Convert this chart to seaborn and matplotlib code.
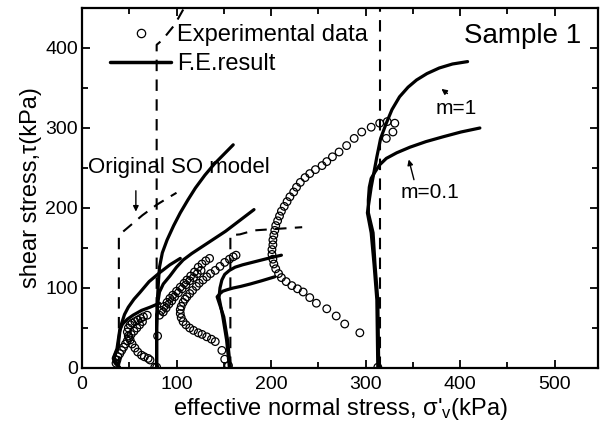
import numpy as np
import pandas as pd
import matplotlib
matplotlib.use("Agg")
import matplotlib.pyplot as plt
from matplotlib.lines import Line2D
from matplotlib.ticker import MultipleLocator
import seaborn as sns

# experimental stress paths (open circles)
exp1_x = [77, 72, 70, 66, 63, 59, 56, 53, 51, 49, 48, 49, 51, 53, 56, 59, 62, 65, 69,
          36, 37, 38, 40, 42, 44, 46, 48, 50, 52, 55, 58, 61, 64]
exp1_y = [1, 10, 12, 14, 16, 20, 25, 30, 35, 40, 45, 50, 54, 56, 58, 60, 62, 64, 66,
          6, 10, 14, 18, 22, 26, 30, 34, 38, 42, 46, 50, 54, 58]
exp2_x = [79, 80, 82, 84, 87, 90, 93, 96, 100, 104, 108, 111, 115, 119, 123, 127, 131, 135,
          86, 89, 92, 95, 98, 102, 106, 110, 114, 118, 122, 126]
exp2_y = [1, 40, 66, 72, 77, 82, 87, 91, 96, 101, 106, 110, 115, 120, 126, 130, 134, 137,
          70, 75, 80, 84, 89, 94, 99, 104, 109, 113, 118, 122]
exp3_x = [155, 151, 148, 141, 137, 132, 127, 123, 118, 114, 110, 107, 105, 104, 104, 105,
          107, 109, 111, 114, 117, 121, 124, 128, 132, 136, 141, 146, 151, 156, 160, 163]
exp3_y = [3, 11, 22, 33, 36, 39, 42, 44, 47, 50, 54, 58, 63, 68, 73, 77,
          82, 86, 89, 93, 97, 102, 106, 110, 114, 118, 122, 127, 132, 136, 139, 141]
exp4_x = [313, 294, 278, 269, 259, 248, 241, 234, 228, 222, 216, 211, 208, 205, 203, 202,
          201, 201, 202, 202, 203, 204, 205, 207, 209, 211, 214, 217, 220, 224, 227, 231,
          236, 241, 247, 254, 259, 265, 272, 280, 288, 296, 306, 315, 323, 331, 329, 322]
exp4_y = [1, 44, 55, 65, 74, 81, 88, 95, 99, 103, 108, 113, 118, 124, 130, 136,
          142, 148, 154, 160, 166, 172, 178, 184, 190, 196, 202, 208, 214, 220, 226, 232,
          238, 243, 248, 253, 258, 264, 270, 278, 287, 295, 301, 306, 308, 306, 295, 287]

# F.E. results (solid lines)
fe1a_x = [40, 36, 34, 38, 40, 42, 45, 49, 55, 61, 71, 82, 93, 104]
fe1a_y = [0, 8, 14, 25, 45, 56, 67, 76, 86, 94, 108, 119, 129, 137]
fe1b_x = [40, 35, 33, 37, 40, 43, 48, 54, 63, 72, 82]
fe1b_y = [0, 6, 12, 24, 48, 55, 61, 66, 72, 76, 81]
fe2a_x = [79, 79, 80, 81, 82, 85, 90, 97, 104, 112, 120, 130, 140, 150, 160]
fe2a_y = [0, 60, 90, 110, 126, 144, 160, 178, 194, 210, 225, 241, 255, 267, 279]
fe2b_x = [79, 79, 80, 82, 86, 93, 100, 107, 116, 125, 134, 143, 152, 162, 172, 182]
fe2b_y = [0, 50, 80, 95, 105, 115, 126, 135, 143, 150, 157, 164, 171, 180, 189, 198]
fe3a_x = [156, 153, 149, 145, 146, 148, 151, 156, 162, 170, 180, 190, 200, 211]
fe3a_y = [0, 35, 64, 88, 100, 110, 117, 122, 126, 129, 132, 135, 138, 141]
fe3b_x = [157, 154, 150, 143, 146, 149, 154, 160, 168, 178, 190, 204]
fe3b_y = [0, 35, 64, 89, 93, 96, 98, 100, 102, 105, 109, 114]
fe4a_x = [313, 312, 309, 306, 302, 304, 306, 309, 312, 316, 322, 328, 336, 345, 354, 365,
          378, 392, 408]
fe4a_y = [0, 85, 130, 169, 194, 210, 226, 245, 264, 287, 306, 323, 339, 351, 360, 368,
          375, 380, 383]
fe4b_x = [314, 313, 310, 308, 303, 303, 304, 306, 310, 315, 322, 333, 347, 364, 382, 401,
          421]
fe4b_y = [0, 85, 130, 169, 194, 210, 226, 237, 245, 254, 262, 269, 276, 283, 289, 295,
          300]

# original SO model (dashed)
so1_x = [39, 39, 49, 64, 79, 90, 100]
so1_y = [0, 166, 176, 191, 204, 212, 219]
so2_x = [79, 79, 85, 98, 108]
so2_y = [0, 404, 410, 429, 450]
so3_x = [157, 157, 167, 182, 233]
so3_y = [0, 166, 167, 172, 176]
so4_x = [315, 315]
so4_y = [0, 450]

sns.set_style("ticks")
plt.rcParams['font.family'] = ['Liberation Sans', 'DejaVu Sans']
plt.rcParams['mathtext.fontset'] = 'custom'
plt.rcParams['mathtext.rm'] = 'Liberation Sans'
plt.rcParams['mathtext.it'] = 'Liberation Sans'
for key in ['text.color', 'axes.labelcolor', 'axes.edgecolor', 'xtick.color', 'ytick.color']:
    plt.rcParams[key] = 'black'

fig = plt.figure(figsize=(6.01, 4.32), dpi=100)
ax = fig.add_axes([82 / 601, 64 / 432, 516 / 601, 360 / 432])

for xs, ys in [(so1_x, so1_y), (so2_x, so2_y), (so3_x, so3_y), (so4_x, so4_y)]:
    sns.lineplot(x=xs, y=ys, sort=False, estimator=None, color='black', lw=1.5,
                 dashes=False, ax=ax, linestyle=(0, (5.5, 4)))

for xs, ys in [(fe1a_x, fe1a_y), (fe1b_x, fe1b_y), (fe2a_x, fe2a_y), (fe2b_x, fe2b_y),
               (fe3a_x, fe3a_y), (fe3b_x, fe3b_y), (fe4a_x, fe4a_y), (fe4b_x, fe4b_y)]:
    sns.lineplot(x=xs, y=ys, sort=False, estimator=None, color='black', lw=2.3, ax=ax)

exp = pd.DataFrame({'x': exp1_x + exp2_x + exp3_x + exp4_x,
                    'y': exp1_y + exp2_y + exp3_y + exp4_y})
sns.scatterplot(data=exp, x='x', y='y', marker='o', s=30, facecolor='none',
                edgecolor='black', linewidth=0.9, ax=ax, zorder=3)

ax.set_xlim(0, 546)
ax.set_ylim(0, 450)
ax.xaxis.set_major_locator(MultipleLocator(100))
ax.xaxis.set_minor_locator(MultipleLocator(50))
ax.yaxis.set_major_locator(MultipleLocator(100))
ax.yaxis.set_minor_locator(MultipleLocator(50))
ax.tick_params(which='both', direction='in', top=True, right=True, width=1.3,
               labelsize=14, colors='black')
ax.tick_params(which='major', length=6)
ax.tick_params(which='minor', length=4)
ax.tick_params(axis='x', pad=6)
ax.tick_params(axis='y', pad=3)
for sp in ax.spines.values():
    sp.set_linewidth(1.6)
    sp.set_color('black')

ax.set_xlabel("effective normal stress, σ'$_\\mathrm{v}$(kPa)", fontsize=17, labelpad=2)
ax.set_ylabel("shear stress,τ(kPa)", fontsize=17, labelpad=2)

handles = [Line2D([], [], marker='o', ls='none', mfc='none', mec='black', ms=6, mew=0.9),
           Line2D([], [], color='black', lw=2.5)]
ax.legend(handles, ['Experimental data', 'F.E.result'], loc='upper left',
          bbox_to_anchor=(0.054, 0.955), frameon=False, fontsize=17, borderpad=0,
          borderaxespad=0, handlelength=2.6, handletextpad=0.25, labelspacing=0.3)

ax.text(466, 415, 'Sample 1', fontsize=20, ha='center', va='center')
ax.text(6, 250, 'Original SO model', fontsize=16, ha='left', va='center')
ax.text(396, 325, 'm=1', fontsize=15, ha='center', va='center')
ax.text(368, 220, 'm=0.1', fontsize=15, ha='center', va='center')

arrow = dict(arrowstyle='-|>', color='black', lw=1, mutation_scale=8)
ax.annotate('', xy=(57, 192), xytext=(57, 225), arrowprops=arrow)
ax.annotate('', xy=(378, 351), xytext=(389, 341), arrowprops=arrow)
ax.annotate('', xy=(345, 264), xytext=(352, 232), arrowprops=arrow)

fig.savefig('out.png', dpi=100)
